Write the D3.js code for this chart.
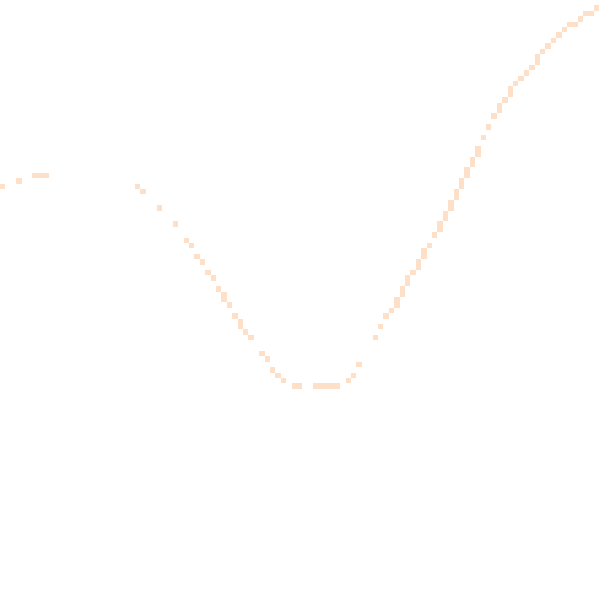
<!DOCTYPE html>
<html lang="en">
<head>
  <meta charset="UTF-8">
  <title>Raster line</title>
  <style>
    body {
      margin: 0;
      background-color: white;
    }

    .cell {
      fill: #fee0c8;
      shape-rendering: crispEdges;
    }
  </style>
</head>
<body>
  <svg id="chart" width="600" height="600"></svg>

  <script src="https://d3js.org/d3.v7.min.js"></script>
  <script>
    // grid size of the raster (cells per side)
    var gridSize = 111;

    // lit cells of the curve, column and row index (row 0 = top)
    var cellCols = [0, 3, 6, 7, 8,
      25, 26, 29, 32, 34, 35, 36, 37, 38, 39, 40, 41, 41, 42, 43, 44, 44, 45, 46,
      48, 49, 50, 51, 52, 54, 55, 58, 59, 60, 61, 62, 64, 65, 66,
      69, 70, 71, 72, 73, 73, 74, 74, 75, 75, 76, 77, 77, 78, 78, 79, 80, 81, 81,
      82, 82, 83, 83, 84, 84, 85, 85, 86, 86, 87, 87, 88, 88, 89, 90, 91, 92, 92,
      93, 94, 94, 95, 96, 97, 98, 99, 99, 100, 101, 102, 103, 104, 105, 106, 107,
      108, 109, 110];
    var cellRows = [34, 33, 32, 32, 32,
      34, 35, 38, 41, 44, 45, 47, 48, 50, 51, 53, 54, 55, 56, 58, 59, 60, 61, 62,
      65, 66, 68, 69, 70, 71, 71, 71, 71, 71, 71, 71, 70, 69, 67,
      62, 60, 58, 57, 55, 56, 53, 54, 51, 52, 50, 48, 49, 46, 47, 45, 43, 41, 42,
      39, 40, 37, 38, 35, 36, 33, 34, 31, 32, 29, 30, 27, 28, 25, 23, 21, 19, 20,
      18, 16, 17, 15, 14, 13, 12, 10, 11, 9, 8, 7, 6, 5, 4, 4, 3,
      2, 2, 1];

    var cells = cellCols.map(function(c, i) { return { col: c, row: cellRows[i] }; });

    var chart = d3.select("#chart");

    var x = d3.scaleBand()
      .domain(d3.range(gridSize))
      .range([0, 599.4])
      .padding(0);

    var y = d3.scaleBand()
      .domain(d3.range(gridSize))
      .range([0, 599.4])
      .padding(0);

    chart.selectAll(".cell")
      .data(cells)
      .enter().append("rect")
      .attr("class", "cell")
      .attr("x", function(d) { return x(d.col); })
      .attr("y", function(d) { return y(d.row); })
      .attr("width", x.bandwidth())
      .attr("height", y.bandwidth());
  </script>
</body>
</html>
